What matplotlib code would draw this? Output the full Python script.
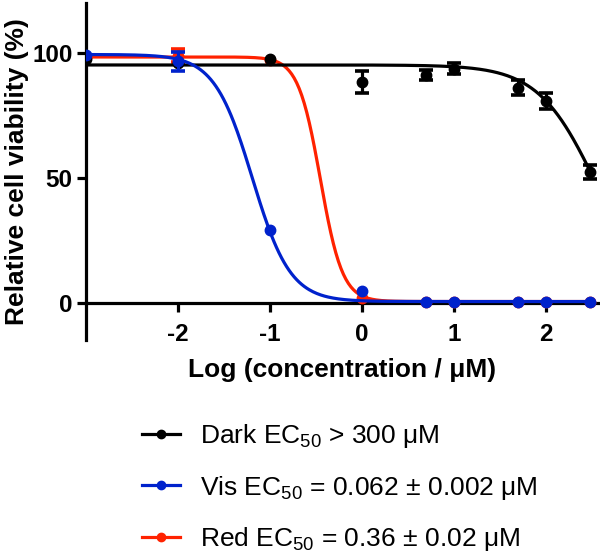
import numpy as np
import matplotlib
matplotlib.use("Agg")
from matplotlib import pyplot as plt

plt.rcParams['font.family'] = ['Liberation Sans', 'DejaVu Sans']
plt.rcParams['mathtext.fontset'] = 'custom'
plt.rcParams['mathtext.rm'] = 'Liberation Sans'
plt.rcParams['axes.unicode_minus'] = False

nan = np.nan

# log10 of concentration (uM)
log_conc = [-3, -2, -1, 0, 0.699, 1, 1.699, 2, 2.477]

# mean viability (%) and SD; nan where the bar is hidden by the marker
dark = [97.5, 96.0, 97.8, 88.4, 91.2, 93.8, 86.2, 80.7, 52.4]
dark_err = [nan, nan, nan, 4.4, 2.0, 2.3, 3.0, 3.2, 2.7]
vis = [99.2, 96.8, 29.2, 4.8, 0.5, 0.5, 0.5, 0.5, 0.5]
vis_err = [nan, 3.8, nan, nan, nan, nan, nan, nan, nan]
red = [98.5, 99.0, 97.3, 2.0, 0.3, 0.3, 0.3, 0.3, 0.3]
red_err = [nan, 2.5, nan, nan, nan, nan, nan, nan, nan]

# fitted dose-response parameters: top, bottom, logEC50, hill slope
dark_fit = [95.3, 0.0, 2.55, 1.37]
vis_fit = [99.5, 0.5, -1.19, 2.1]
red_fit = [98.5, 0.5, -0.45, 3.6]

labels = ['Dark EC$_{50}$ > 300 μM',
          'Vis EC$_{50}$ = 0.062 ± 0.002 μM',
          'Red EC$_{50}$ = 0.36 ± 0.02 μM']
colors = ['black', '#0022cc', '#ff2200']


def hill(x, p):
    top, bottom, logec, h = p
    return bottom + (top - bottom) / (1 + 10 ** ((x - logec) * h))


fig = plt.figure(figsize=(6, 5.55), dpi=100)
ax = fig.add_axes([0.143, 0.387, 0.854, 0.607])

xs = np.linspace(log_conc[0], log_conc[-1], 400)
lw = 2.3
series = [(red, red_err, red_fit, colors[2], 2),
          (dark, dark_err, dark_fit, colors[0], 3),
          (vis, vis_err, vis_fit, colors[1], 4)]
for y, e, p, c, z in series:
    ax.plot(xs, hill(xs, p), color=c, lw=lw, zorder=z)
    ax.errorbar(log_conc, y, yerr=e, fmt='o', color=c, ms=7.5, elinewidth=lw,
                capsize=5, capthick=lw + 0.3, zorder=z + 0.5)

# legend handles
handles = []
for lab, c in zip(labels, colors):
    h, = ax.plot([], [], color=c, lw=lw, marker='o', ms=6, label=lab)
    handles.append(h)
fig.legend(handles=handles, loc='upper left', bbox_to_anchor=(0.237, 0.240),
           frameon=False, fontsize=19, handlelength=1.45, handletextpad=0.75,
           labelspacing=0.9, borderaxespad=0, borderpad=0)

ax.set_xlim(-3, 2.57)
ax.set_ylim(-15, 120)
ax.spines['top'].set_visible(False)
ax.spines['right'].set_visible(False)
ax.spines['bottom'].set_position(('data', 0))
ax.spines['left'].set_linewidth(lw)
ax.spines['bottom'].set_linewidth(lw)
ax.set_xticks([-2, -1, 0, 1, 2])
ax.set_yticks([0, 50, 100])
ax.tick_params(width=lw, length=6.5, labelsize=17.5)
ax.tick_params(axis='x', pad=8)
ax.tick_params(axis='y', pad=3)
for t in ax.get_xticklabels() + ax.get_yticklabels():
    t.set_fontweight('bold')

ax.set_xlabel('Log (concentration / μM)', fontsize=19, fontweight='bold', labelpad=9)
ax.set_ylabel('Relative cell viability (%)', fontsize=19, fontweight='bold', labelpad=2)

fig.savefig('out.png', dpi=100)
